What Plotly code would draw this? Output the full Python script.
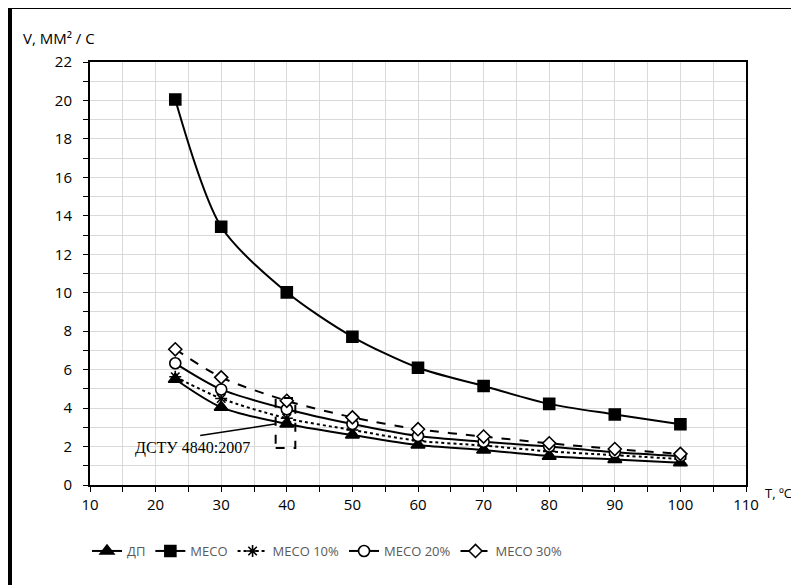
import plotly.graph_objects as go

# temperature, C
temps = [23, 30, 40, 50, 60, 70, 80, 90, 100]

# kinematic viscosity, mm2/s
dp = [5.5, 4.04, 3.17, 2.6, 2.08, 1.82, 1.5, 1.33, 1.16]
meso = [20.05, 13.43, 10.02, 7.71, 6.1, 5.15, 4.22, 3.67, 3.16]
meso10 = [5.63, 4.5, 3.47, 2.86, 2.3, 2.05, 1.75, 1.55, 1.35]
meso20 = [6.33, 4.97, 3.94, 3.17, 2.55, 2.25, 2.0, 1.7, 1.5]
meso30 = [7.06, 5.6, 4.38, 3.52, 2.9, 2.52, 2.17, 1.87, 1.62]

names = ["ДП", "МЕСО", "МЕСО 10%", "МЕСО 20%", "МЕСО 30%"]
series = [dp, meso, meso10, meso20, meso30]
symbols = ["triangle-up", "square", "asterisk-open", "circle", "diamond"]
dashes = ["solid", "solid", "dot", "solid", "dash"]
fills = ["black", "black", "black", "white", "white"]
sizes = [12, 11, 10, 11, 10]

# page body has an 8px margin, so the figure is drawn 8px in from the corner
OFF = 8
W, H = 799 - OFF, 585 - OFF
L, R, T, B = 90 - OFF, 53, 62 - OFF, 100
pw, ph = W - L - R, H - T - B


def px_x(x):
    # screen x (reference picture) -> paper
    return (x - OFF - L) / pw


def px_y(y):
    # screen y (reference picture) -> paper
    return (H - B - (y - OFF)) / ph


fig = go.Figure()

for name, ys, sym, dash, fill, size in zip(names, series, symbols, dashes, fills, sizes):
    fig.add_trace(go.Scatter(
        x=temps, y=ys, name=name,
        mode="lines+markers",
        line=dict(color="black", width=2, dash=dash, shape="spline", smoothing=0.8),
        marker=dict(symbol=sym, size=size, color=fill,
                    line=dict(color="black", width=1.6)),
    ))

# dashed frame round the standard point at 40 C
fig.add_shape(type="rect", xref="x", yref="y", x0=38.3, x1=41.3, y0=1.92, y1=4.52,
              line=dict(color="black", width=2, dash="dash"))
fig.add_shape(type="line", xref="x", yref="y", x0=26.8, y0=2.58, x1=38.2, y1=3.17,
              line=dict(color="black", width=1.5))
fig.add_annotation(x=25.6, y=1.92, xref="x", yref="y", text="ДСТУ 4840:2007",
                   showarrow=False, font=dict(family="Liberation Serif", size=16, color="black"))

# axis captions
fig.add_annotation(x=px_x(21), y=px_y(38), xref="paper", yref="paper", text="V, ММ² / С",
                   showarrow=False, xanchor="left", yanchor="middle",
                   font=dict(family="Open Sans", size=15, color="black"))
fig.add_annotation(x=px_x(763), y=px_y(493), xref="paper", yref="paper", text="T, ºC",
                   showarrow=False, xanchor="left", yanchor="middle",
                   font=dict(family="Open Sans", size=13, color="black"))

axis_common = dict(
    showline=True, linecolor="black", linewidth=2, mirror=True,
    showgrid=True, gridcolor="#d9d9d9", gridwidth=1,
    ticks="outside", ticklen=5, tickwidth=1, tickcolor="black",
    zeroline=False,
    tickfont=dict(family="Open Sans", size=15, color="black"),
)

fig.update_xaxes(range=[10, 110], dtick=10, tick0=10,
                 minor=dict(dtick=5, showgrid=True, gridcolor="#d9d9d9",
                            ticks="outside", ticklen=5, tickcolor="black"),
                 **axis_common)
fig.update_yaxes(range=[0, 22], dtick=2, tick0=0, ticklabelstandoff=8,
                 minor=dict(dtick=1, showgrid=True, gridcolor="#d9d9d9",
                            ticks="outside", ticklen=5, tickcolor="black"),
                 **axis_common)

# outer frame: top and left edges only
fig.add_shape(type="line", xref="paper", yref="paper",
              x0=px_x(8), x1=px_x(810), y0=px_y(7), y1=px_y(7),
              line=dict(color="black", width=4))
fig.add_shape(type="line", xref="paper", yref="paper",
              x0=px_x(10), x1=px_x(10), y0=px_y(5), y1=px_y(600),
              line=dict(color="black", width=4))

fig.update_layout(
    width=W, height=H,
    margin=dict(l=L, r=R, t=T, b=B),
    plot_bgcolor="white", paper_bgcolor="white",
    showlegend=True,
    legend=dict(orientation="h", x=px_x(87), y=px_y(551),
                xanchor="left", yanchor="middle",
                font=dict(family="Open Sans", size=13, color="#595959")),
)

fig.write_html("out.html")
